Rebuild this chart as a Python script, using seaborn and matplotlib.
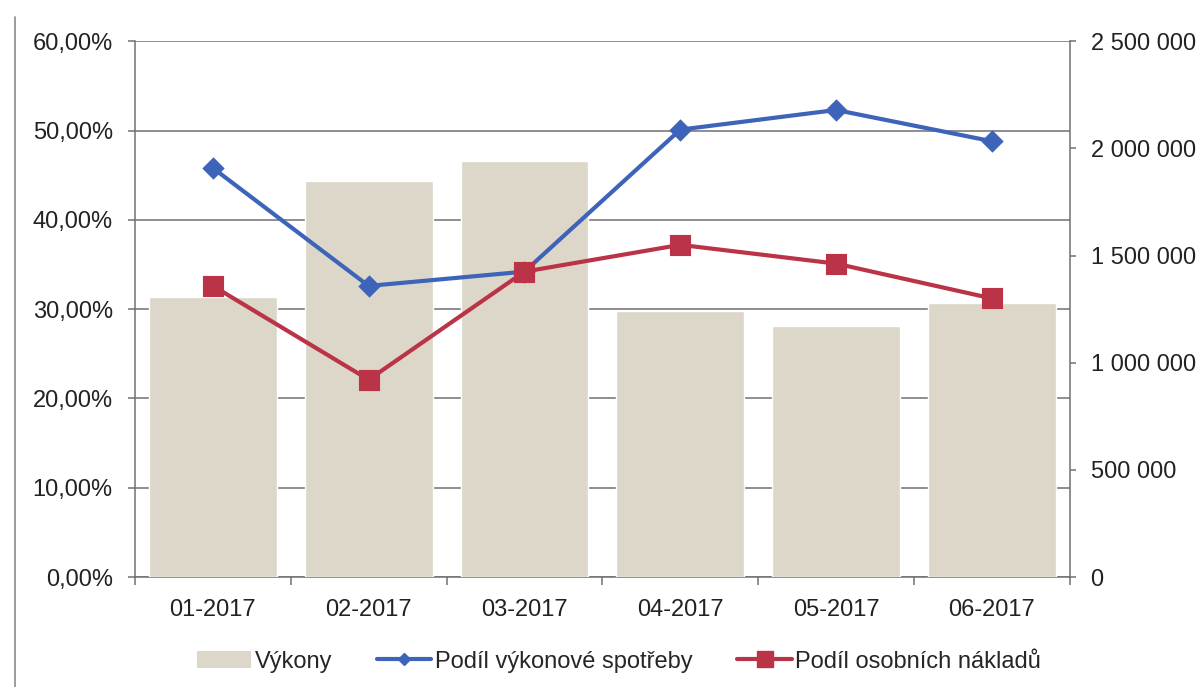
import matplotlib
matplotlib.use("Agg")
import matplotlib.pyplot as plt
import seaborn as sns
import pandas as pd
from matplotlib.patches import Patch
from matplotlib.lines import Line2D
from matplotlib.ticker import FuncFormatter, MultipleLocator

months = ["01-2017", "02-2017", "03-2017", "04-2017", "05-2017", "06-2017"]
vykony = [1308000, 1846000, 1939000, 1243000, 1173000, 1280000]
podil_vykonove = [45.8, 32.6, 34.2, 50.1, 52.3, 48.8]
podil_osobnich = [32.6, 22.1, 34.2, 37.2, 35.1, 31.2]

legend_labels = ["Výkony", "Podíl výkonové spotřeby", "Podíl osobních nákladů"]

bar_color = "#ddd7ca"
blue = "#3d64b9"
red = "#bb3347"
axis_color = "#707070"
text_color = "#222222"
FS = 17

sns.set_theme(style="white")
plt.rcParams["font.family"] = ["Liberation Sans", "DejaVu Sans"]
plt.rcParams["font.size"] = FS
plt.rcParams["xtick.labelsize"] = FS
plt.rcParams["ytick.labelsize"] = FS

df = pd.DataFrame({"month": months, "vykony": vykony,
                   "vs": podil_vykonove, "on": podil_osobnich})

fig = plt.figure(figsize=(12.02, 6.87), dpi=100)
fig.subplots_adjust(left=0.1123, right=0.890, top=0.940, bottom=0.160)

# bottom layer: percentage axis with gridlines
ax_pct = fig.add_subplot(111)
ax_pct.set_ylim(0, 60)
ax_pct.yaxis.set_major_locator(MultipleLocator(10))
ax_pct.yaxis.set_major_formatter(FuncFormatter(lambda v, p: f"{v:.2f}".replace(".", ",") + "%"))
ax_pct.grid(axis="y", color=axis_color, linewidth=1.1)
ax_pct.set_axisbelow(True)

# middle layer: bars on secondary axis
ax_bar = ax_pct.twinx()
sns.barplot(data=df, x="month", y="vykony", color=bar_color, width=0.82,
            saturation=1, ax=ax_bar, zorder=2)
ax_bar.set_ylim(0, 2500000)
ax_bar.yaxis.set_major_locator(MultipleLocator(500000))
ax_bar.yaxis.set_major_formatter(FuncFormatter(lambda v, p: f"{int(v):,}".replace(",", " ")))
ax_bar.set_ylabel("")
ax_bar.set_xlabel("")

# top layer: lines on percentage scale
ax_line = fig.add_axes(ax_pct.get_position(), sharex=ax_bar, sharey=ax_pct)
ax_line.patch.set_visible(False)
sns.pointplot(data=df, x="month", y="vs", color=blue, marker="D", markersize=9,
              linewidth=3, ax=ax_line)
sns.pointplot(data=df, x="month", y="on", color=red, marker="s", markersize=12.5,
              linewidth=3, ax=ax_line)
ax_line.set_ylim(0, 60)
ax_line.axis("off")

ax_bar.set_xlim(-0.5, len(months) - 0.5)

for a in (ax_pct, ax_bar):
    for s in a.spines.values():
        s.set_visible(False)
ax_pct.spines["left"].set_visible(True)
ax_pct.spines["bottom"].set_visible(True)
ax_bar.spines["right"].set_visible(True)
for a, side in ((ax_pct, "left"), (ax_pct, "bottom"), (ax_bar, "right")):
    a.spines[side].set_color(axis_color)
    a.spines[side].set_linewidth(1.1)

ax_pct.tick_params(axis="y", left=True, length=5, width=1.1, color=axis_color,
                   labelsize=FS, pad=11, labelcolor=text_color)
ax_bar.tick_params(axis="y", right=True, length=4, width=1.1, color=axis_color,
                   labelsize=FS, pad=11, labelcolor=text_color)

# x axis (shared between the twin axes; drawn by ax_pct)
ax_pct.set_xticks(range(len(months)), months, fontsize=FS, color=text_color)
ax_pct.set_xticks([i - 0.5 for i in range(len(months) + 1)], minor=True)
ax_pct.tick_params(axis="x", which="minor", bottom=True, length=6, width=1.1,
                   color=axis_color)
ax_pct.tick_params(axis="x", which="major", bottom=True, length=0, pad=16)
ax_pct.set_xlabel("")
ax_pct.set_ylabel("")

handles = [
    Patch(facecolor=bar_color, edgecolor="none"),
    Line2D([0], [0], color=blue, lw=3, marker="D", markersize=6),
    Line2D([0], [0], color=red, lw=3, marker="s", markersize=11),
]
fig.legend(handles, legend_labels, loc="center", ncol=3, frameon=False,
           bbox_to_anchor=(0.515, 0.037), fontsize=FS, handlelength=2.3,
           handletextpad=0.15, columnspacing=1.9)

# outer chart border on the left
fig.add_artist(Line2D([0.0125, 0.0125], [0, 0.975], transform=fig.transFigure,
                      color="#8a8a8a", linewidth=1.2))

fig.savefig("out.png", dpi=100)
